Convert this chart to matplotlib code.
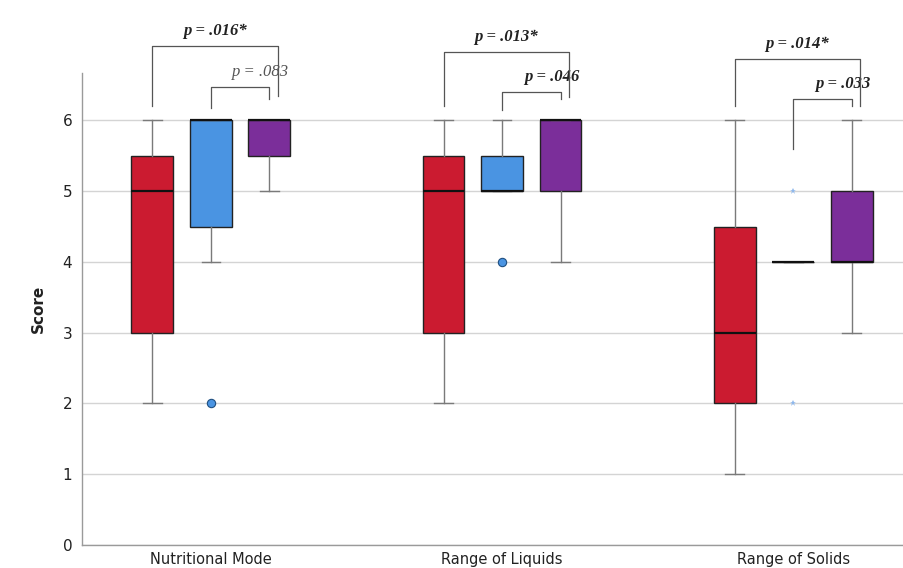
import matplotlib
matplotlib.use("Agg")
import matplotlib.pyplot as plt

# ---- data ----
categories = ["Nutritional Mode", "Range of Liquids", "Range of Solids"]
group_colors = ["#CB1B30", "#4A94E2", "#7B2E9A"]

# (whislo, q1, med, q3, whishi) per category, per group
red_stats = [(2, 3, 5, 5.5, 6), (2, 3, 5, 5.5, 6), (1, 2, 3, 4.5, 6)]
blue_stats = [(4, 4.5, 6, 6, 6), (5, 5, 5, 5.5, 6), (4, 4, 4, 4, 4)]
purple_stats = [(5, 5.5, 6, 6, 6), (4, 5, 6, 6, 6), (3, 4, 4, 5, 6)]

# outliers for the blue group: circles (mild) and stars (extreme)
blue_mild = [[2], [4], []]
blue_extreme = [[], [], [5, 2]]

# comparisons: (category, group a, group b, label, bracket top, leg bottoms, bold)
comparisons = [
    (0, 0, 2, "p = .016*", 7.05, (6.2, 6.35), True),
    (0, 1, 2, "p = .083", 6.47, (6.18, 6.3), False),
    (1, 0, 2, "p = .013*", 6.97, (6.2, 6.33), True),
    (1, 1, 2, "p = .046", 6.4, (6.15, 6.3), True),
    (2, 0, 2, "p = .014*", 6.87, (6.2, 6.2), True),
    (2, 1, 2, "p = .033", 6.3, (5.6, 6.2), True),
]

offset = 0.201
width = 0.144

fig = plt.figure(figsize=(9.04, 5.68), dpi=100)
ax = fig.add_axes([0.0907, 0.0405, 0.9093, 0.831])

all_stats = [red_stats, blue_stats, purple_stats]
for g, stats in enumerate(all_stats):
    bxp = []
    for c, (lo, q1, med, q3, hi) in enumerate(stats):
        bxp.append(dict(whislo=lo, q1=q1, med=med, q3=q3, whishi=hi, fliers=[]))
    pos = [c + (g - 1) * offset for c in range(len(categories))]
    ax.bxp(bxp, positions=pos, widths=width, patch_artist=True, showfliers=False,
           boxprops=dict(facecolor=group_colors[g], edgecolor="#222222", linewidth=1.0),
           medianprops=dict(color="#111111", linewidth=1.6),
           whiskerprops=dict(color="#7a7a7a", linewidth=1.0),
           capprops=dict(color="#7a7a7a", linewidth=1.0),
           capwidths=width * 0.45, zorder=3)

for c in range(len(categories)):
    x = c
    for v in blue_mild[c]:
        ax.plot(x, v, "o", ms=6, mfc=group_colors[1], mec="#1f4f80", mew=0.8, zorder=4)
    for v in blue_extreme[c]:
        ax.plot(x, v, "*", ms=5, color="#8fb8ec", mew=0, zorder=4)

# significance brackets
for c, ga, gb, label, top, legs, bold in comparisons:
    xa = c + (ga - 1) * offset
    xb = c + (gb - 1) * offset + (0.03 if ga == 0 else 0.0)
    ax.plot([xa, xa, xb, xb], [legs[0], top, top, legs[1]], color="#555555",
            lw=0.9, clip_on=False, zorder=5)
    ax.text((xa + xb) / 2 + (0.07 if ga == 1 else 0), top + 0.1, label,
            ha="center", va="bottom", family="Liberation Serif", style="italic",
            fontweight="bold" if bold else "normal", fontsize=12,
            color="#222222" if bold else "#555555", clip_on=False)

ax.set_xlim(-0.443, 2.381)
ax.set_ylim(0, 6.67)
ax.set_yticks(range(0, 7))
ax.set_xticks(range(len(categories)))
ax.set_xticklabels(categories, fontsize=10.5, color="#222222")
ax.tick_params(axis="y", length=0, labelsize=11, pad=7, colors="#222222")
ax.tick_params(axis="x", length=0, pad=5)
ax.yaxis.grid(True, color="#d4d4d4", linewidth=1.0)
ax.set_axisbelow(True)
ax.set_ylabel("Score", fontsize=11, fontweight="bold", color="#222222", labelpad=12)
for side in ["top", "right"]:
    ax.spines[side].set_visible(False)
for side in ["left", "bottom"]:
    ax.spines[side].set_color("#9a9a9a")
    ax.spines[side].set_linewidth(1.0)

plt.savefig("out.png", dpi=100)
